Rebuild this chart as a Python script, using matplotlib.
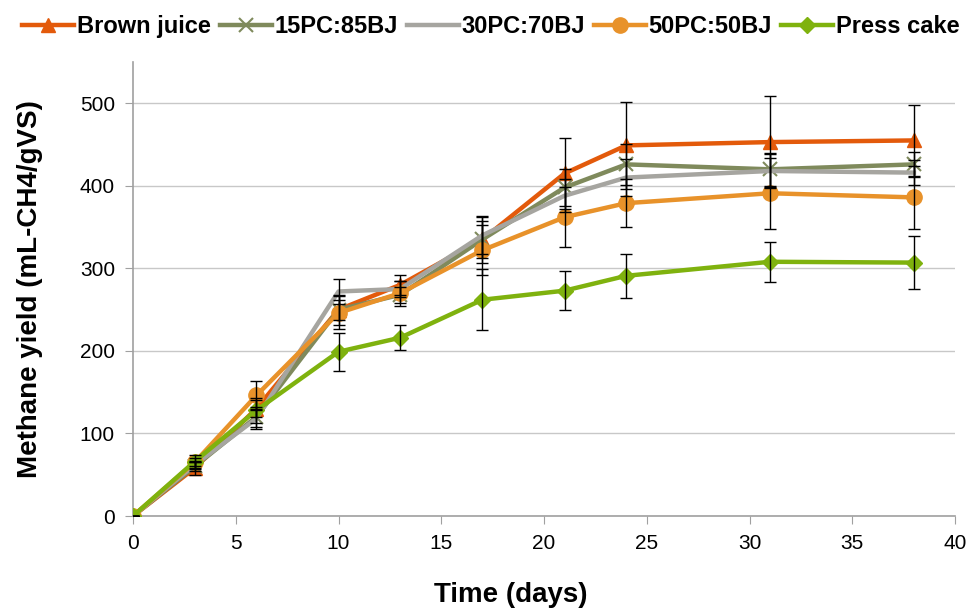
import numpy as np
import matplotlib.pyplot as plt

plt.rcParams['font.family'] = ['Liberation Sans', 'DejaVu Sans']

# Data
days = [0, 3, 6, 10, 13, 17, 21, 24, 31, 38]

brown_juice = [0, 58, 130, 250, 280, 335, 415, 449, 453, 455]
brown_juice_err = [0, 8, 10, 12, 12, 28, 43, 53, 56, 43]

pc15 = [0, 60, 120, 250, 268, 335, 398, 426, 420, 426]
pc15_err = [0, 5, 12, 18, 10, 22, 22, 25, 20, 15]

pc30 = [0, 62, 118, 272, 275, 340, 388, 410, 418, 416]
pc30_err = [0, 5, 12, 15, 10, 22, 20, 22, 20, 15]

pc50 = [0, 65, 146, 246, 270, 322, 362, 379, 391, 386]
pc50_err = [0, 5, 18, 20, 15, 30, 36, 29, 43, 38]

press_cake = [0, 66, 128, 199, 216, 262, 273, 291, 308, 307]
press_cake_err = [0, 8, 15, 23, 15, 37, 24, 27, 24, 32]

labels = ['Brown juice', '15PC:85BJ', '30PC:70BJ', '50PC:50BJ', 'Press cake']

fig = plt.figure(figsize=(9.68, 6.08), dpi=100)
ax = fig.add_axes([0.1374, 0.1513, 0.8492, 0.7467])

series = [
    (brown_juice, brown_juice_err, '#E35A0B', '^', 10),
    (pc15, pc15_err, '#7F8A5C', 'x', 10),
    (pc30, pc30_err, '#A6A5A0', None, 0),
    (pc50, pc50_err, '#E8922A', 'o', 11),
    (press_cake, press_cake_err, '#7FB20E', 'D', 8),
]

for i, (vals, errs, col, mk, ms) in enumerate(series):
    ax.plot(days, vals, color=col, lw=3.2, marker=mk, markersize=ms,
            markeredgewidth=1.5 if mk == 'x' else 1, markeredgecolor=col,
            label=labels[i], zorder=3 + i)
    ax.errorbar(days, vals, yerr=errs, fmt='none', ecolor='black',
                elinewidth=1, capsize=4, capthick=1, zorder=10)

ax.set_xlim(0, 40)
ax.set_ylim(0, 550)
ax.set_xticks(np.arange(0, 41, 5))
ax.set_yticks(np.arange(0, 501, 100))
ax.grid(True, axis='y', color='#C8C8C8', lw=1)
ax.set_axisbelow(True)

for s in ['top', 'right']:
    ax.spines[s].set_visible(False)
for s in ['left', 'bottom']:
    ax.spines[s].set_color('#A0A0A0')
    ax.spines[s].set_linewidth(1.2)

ax.tick_params(axis='both', direction='out', length=6, color='#A0A0A0',
               labelsize=15, pad=7)

ax.set_xlabel('Time (days)', fontsize=20, fontweight='bold')
ax.xaxis.set_label_coords(0.459, -0.173)
ax.xaxis.label.set_va('center')
ax.set_ylabel('Methane yield (mL-CH4/gVS)', fontsize=20, fontweight='bold')
ax.yaxis.set_label_coords(-0.125, 0.5)
ax.yaxis.label.set_va('center')

fig.legend(loc='upper center', bbox_to_anchor=(0.507, 1.01), ncol=5, frameon=False,
           prop={'weight': 'bold', 'size': 17}, handlelength=2.2,
           handletextpad=0.1, columnspacing=0.4)

fig.savefig('out.png', dpi=100)
